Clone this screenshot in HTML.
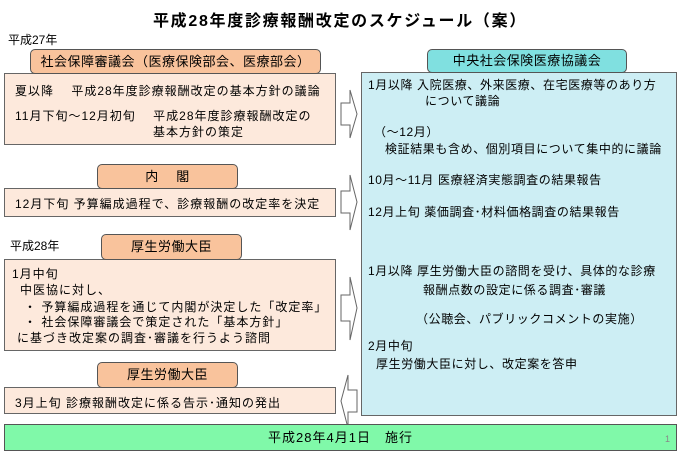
<!DOCTYPE html>
<html><head><meta charset="utf-8"><style>
body{margin:0;width:680px;height:455px;background:#fff;position:relative;font-family:"Liberation Sans","Noto Sans CJK JP",sans-serif;font-size:12px;color:#000;overflow:hidden}
.a{position:absolute;white-space:nowrap;letter-spacing:1px}
.r{letter-spacing:0.6px}
.hd{position:absolute;background:#f9c39c;border:1px solid #555;border-radius:5px;box-sizing:border-box;text-align:center;font-size:13px;letter-spacing:0.5px}
.bx{position:absolute;background:#fde9dc;border:1px solid #666;box-sizing:border-box}
</style></head><body>
<div class="a" style="left:0;width:680px;text-align:center;top:7px;font-size:16px;font-weight:bold;letter-spacing:1.7px">平成28年度診療報酬改定のスケジュール（案）</div>
<div class="a" style="left:8px;top:31px;font-size:12px;letter-spacing:0">平成27年</div>

<div class="bx" style="left:4px;top:73px;width:332px;height:72px"></div>
<div class="hd" style="left:30px;top:49px;width:291px;height:25px;line-height:23px">社会保障審議会（医療保険部会、医療部会）</div>
<div class="a" style="left:15px;top:82px">夏以降　 平成28年度診療報酬改定の基本方針の議論</div>
<div class="a" style="left:15px;top:107px">11月下旬～12月初旬　  平成28年度診療報酬改定の</div>
<div class="a" style="left:153px;top:123px">基本方針の策定</div>

<div class="bx" style="left:4px;top:188px;width:332px;height:29px"></div>
<div class="hd" style="left:97px;top:164px;width:141px;height:25px;line-height:23px">内　 閣</div>
<div class="a" style="left:15px;top:195px">12月下旬  予算編成過程で、診療報酬の改定率を決定</div>

<div class="a" style="left:10px;top:237px;letter-spacing:0">平成28年</div>
<div class="bx" style="left:4px;top:259px;width:332px;height:92px"></div>
<div class="hd" style="left:101px;top:234px;width:141px;height:26px;line-height:24px">厚生労働大臣</div>
<div class="a" style="left:12px;top:265px">1月中旬</div>
<div class="a" style="left:20px;top:281px">中医協に対し、</div>
<div class="a" style="left:24px;top:298px">・  予算編成過程を通じて内閣が決定した「改定率」</div>
<div class="a" style="left:24px;top:313px">・  社会保障審議会で策定された「基本方針」</div>
<div class="a" style="left:17px;top:329px">に基づき改定案の調査･審議を行うよう諮問</div>

<div class="bx" style="left:4px;top:387px;width:332px;height:27px"></div>
<div class="hd" style="left:97px;top:362px;width:141px;height:26px;line-height:24px">厚生労働大臣</div>
<div class="a" style="left:15px;top:394px">3月上旬  診療報酬改定に係る告示･通知の発出</div>

<div class="a" style="left:361px;top:72px;width:316px;height:344px;background:#cdeef4;border:1px solid #666;box-sizing:border-box"></div>
<div class="hd" style="left:427px;top:49px;width:200px;height:24px;line-height:22px;background:#80e0e0">中央社会保険医療協議会</div>
<div class="a r" style="left:368px;top:76px">1月以降  入院医療、外来医療、在宅医療等のあり方</div>
<div class="a r" style="left:425px;top:92px">について議論</div>
<div class="a r" style="left:374px;top:123px">（～12月）</div>
<div class="a r" style="left:385px;top:140px">検証結果も含め、個別項目について集中的に議論</div>
<div class="a r" style="left:368px;top:171px">10月～11月  医療経済実態調査の結果報告</div>
<div class="a r" style="left:368px;top:203px">12月上旬  薬価調査･材料価格調査の結果報告</div>
<div class="a r" style="left:368px;top:262px">1月以降  厚生労働大臣の諮問を受け、具体的な診療</div>
<div class="a r" style="left:423px;top:281px">報酬点数の設定に係る調査･審議</div>
<div class="a r" style="left:416px;top:310px">（公聴会、パブリックコメントの実施）</div>
<div class="a r" style="left:368px;top:337px">2月中旬</div>
<div class="a r" style="left:376px;top:355px">厚生労働大臣に対し、改定案を答申</div>

<svg class="a" style="left:0;top:0" width="680" height="455">
<g fill="#fff" stroke="#666" stroke-width="1">
<polygon points="341,103 350,103 350,90 357,114 350,138 350,125 341,125"/>
<polygon points="341,191 350,191 350,175 357,202 350,230 350,213 341,213"/>
<polygon points="341,295 350,295 350,277 357,308 350,340 350,321 341,321"/>
<polygon points="357,390 348,390 348,375 341,401 348,428 348,412 357,412"/>
</g>
</svg>

<div class="a" style="left:4px;top:424px;width:673px;height:27px;background:#80f9a9;border:1px solid #555;box-sizing:border-box;text-align:center;line-height:25px;font-size:13px">平成28年4月1日　施行</div>
<div class="a" style="left:665px;top:434px;font-size:9px;color:#888">1</div>
</body></html>
